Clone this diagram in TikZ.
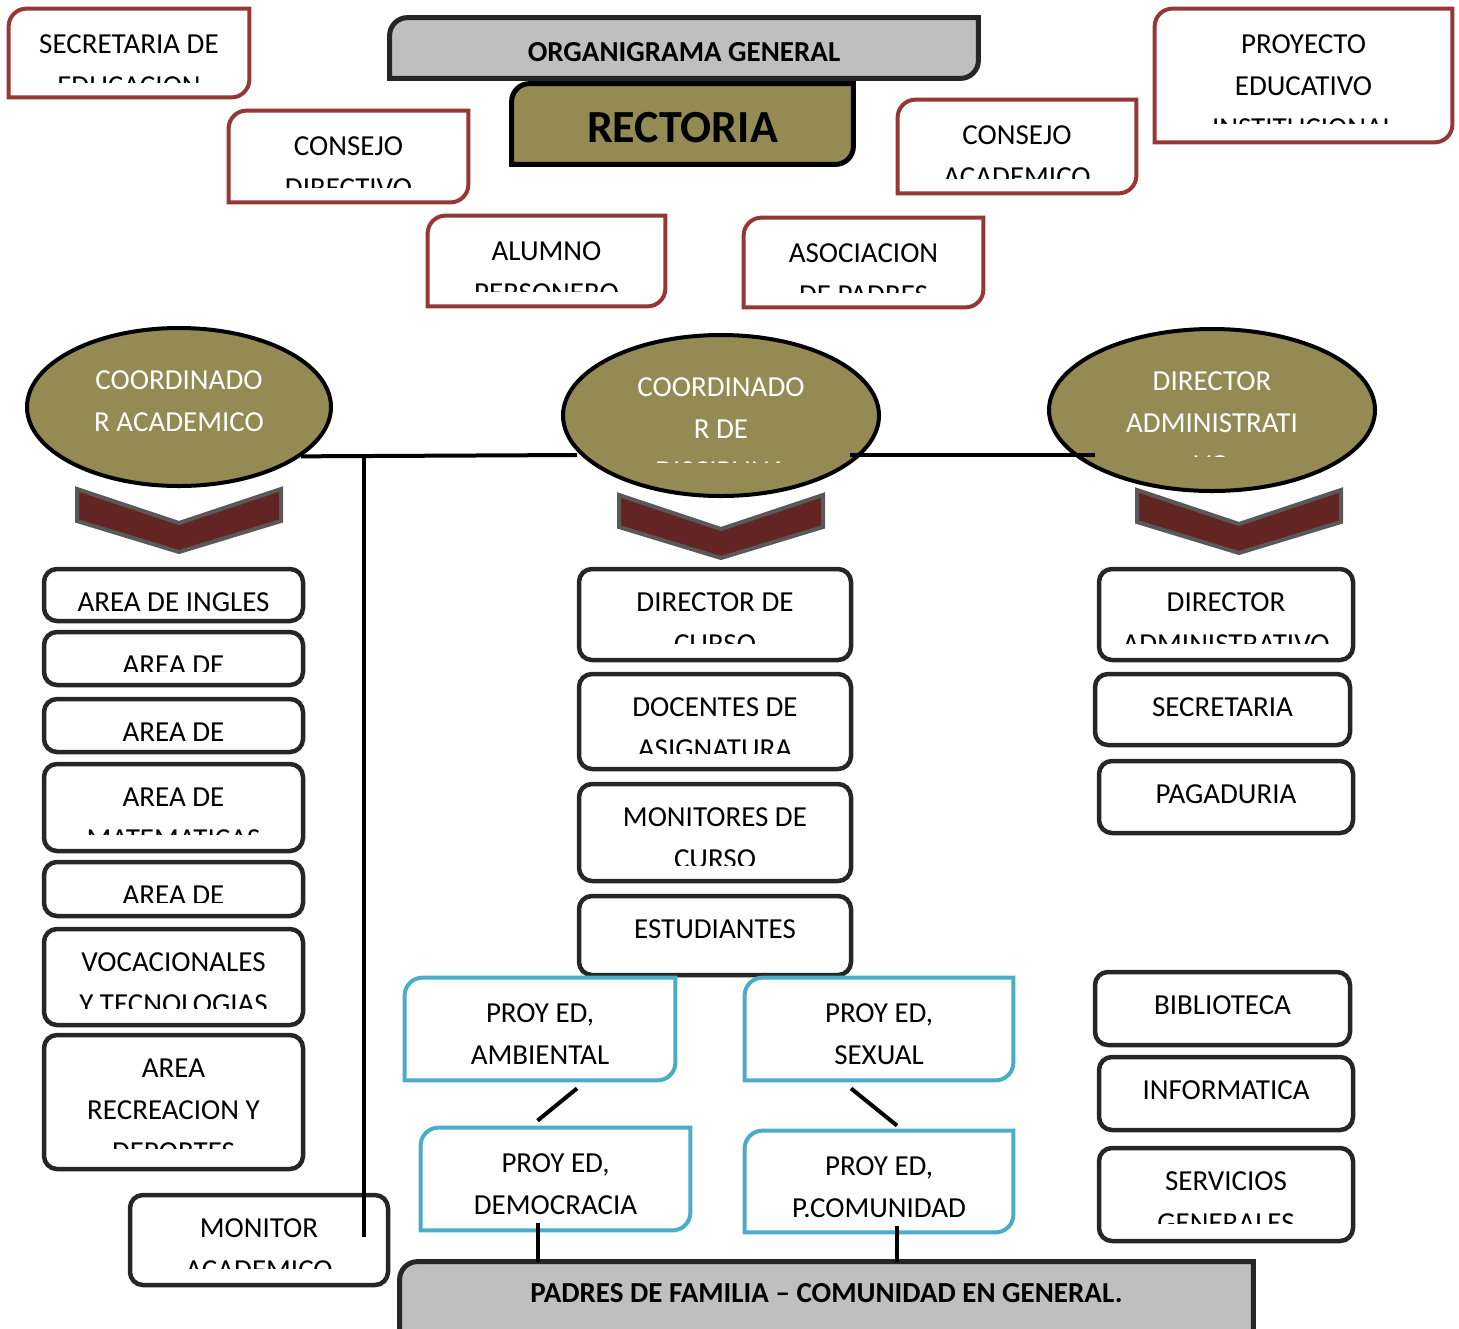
\documentclass[tikz,border=0pt]{standalone}
\usepackage{fontspec}
\setmainfont{Carlito}
\usepackage{tikz}
\usetikzlibrary{shapes.geometric, fit, calc}
\definecolor{framered}{RGB}{149,55,53}
\definecolor{frameblue}{RGB}{75,172,198}
\definecolor{olivefill}{RGB}{148,138,84}
\definecolor{chevfill}{RGB}{99,37,35}
\definecolor{chevedge}{RGB}{89,89,89}
\definecolor{carddark}{RGB}{38,38,38}
\definecolor{plategray}{RGB}{191,191,191}

% outline with rounded top-left and bottom-right corners
\newcommand{\diagframe}[2]{%
  \path[#1] ([yshift=-9pt]#2.north west) .. controls ([yshift=-4pt]#2.north west) and ([xshift=4pt]#2.north west) .. ([xshift=9pt]#2.north west)
    -- (#2.north east) -- ([yshift=9pt]#2.south east) .. controls ([yshift=4pt]#2.south east) and ([xshift=-4pt]#2.south east) .. ([xshift=-9pt]#2.south east)
    -- (#2.south west) -- cycle;}
% text that runs out of its box is cut off
\newcommand{\boxtext}[3][9.5pt]{%
  \begin{scope}
    \clip ([yshift=#1]#2.south west) rectangle (#2.north east);
    \node[txt, anchor=north] (#2-t) at ([yshift=-13pt]#2.north) {#3};
  \end{scope}}
\newcommand{\platetext}[2]{%
  \begin{scope}
    \clip ([xshift=-120pt]#1.north) rectangle ([xshift=120pt,yshift=-64.8pt]#1.north);
    \node[txt, text=white, anchor=north] (#1-t) at ([yshift=-22pt]#1.north) {#2};
  \end{scope}}

\begin{document}
\begin{tikzpicture}[x=0.5pt, y=-0.5pt,
        txt/.style={inner sep=0pt, align=center, font=\fontsize{14.5}{21}\selectfont},
        slot/.style={inner sep=0pt},
        redframe/.style={draw=framered, line width=2pt, fill=white},
        blueframe/.style={draw=frameblue, line width=2pt, fill=white},
        titleframe/.style={draw=carddark, line width=2.5pt, fill=plategray},
        headframe/.style={draw=black, line width=2.5pt, fill=olivefill},
        card/.style={draw=carddark, line width=2.25pt, rounded corners=6.5pt, fill=white, inner sep=0pt},
        plate/.style={ellipse, draw=black, line width=2pt, fill=olivefill, inner sep=0pt},
        chev/.style={fill=chevfill, draw=chevedge, line width=2pt},
        conn/.style={draw=black, line width=2pt}
    ]
    \useasboundingbox (0,0) rectangle (1459,1328);

    \node[slot, fit={(9,9) (249,97)}] (sed) {};
    \diagframe{redframe}{sed}
    \boxtext[7.5pt]{sed}{SECRETARIA DE\\EDUCACION}
    \node[slot, fit={(229,111) (468,202)}] (cdir) {};
    \diagframe{redframe}{cdir}
    \boxtext[7.5pt]{cdir}{CONSEJO\\DIRECTIVO}
    \node[slot, fit={(428,216) (665,306)}] (aper) {};
    \diagframe{redframe}{aper}
    \boxtext[7.5pt]{aper}{ALUMNO\\PERSONERO}
    \node[slot, fit={(898,100) (1136,193)}] (cacd) {};
    \diagframe{redframe}{cacd}
    \boxtext[7.5pt]{cacd}{CONSEJO\\ACADEMICO}
    \node[slot, fit={(744,218) (983,307)}] (apad) {};
    \diagframe{redframe}{apad}
    \boxtext[7.5pt]{apad}{ASOCIACION\\DE PADRES}
    \node[slot, fit={(1155,9) (1452,142)}] (pei) {};
    \diagframe{redframe}{pei}
    \boxtext[9.5pt]{pei}{PROYECTO\\EDUCATIVO\\INSTITUCIONAL}

    \node[slot, fit={(390,18) (978,78)}] (tit) {};
    \diagframe{titleframe}{tit}
    \node[anchor=base, font=\bfseries\fontsize{14.5}{21}\selectfont] (tit-t) at ([yshift=8.5pt]tit.south) {ORGANIGRAMA GENERAL};
    \node[slot, fit={(512,84) (853,164)}] (rect) {};
    \diagframe{headframe}{rect}
    \node[anchor=base, font=\bfseries\fontsize{23}{28}\selectfont] (rect-t) at ([yshift=11pt]rect.south) {RECTORIA};

    \node[plate, minimum width=152pt, minimum height=79pt] (cacad) at (179,407) {};
    \platetext{cacad}{COORDINADO\\R ACADEMICO}
    \node[plate, minimum width=158pt, minimum height=80.5pt] (cdisc) at (721,415.5) {};
    \platetext{cdisc}{COORDINADO\\R DE\\DISCIPLINA}
    \node[plate, minimum width=163pt, minimum height=81pt] (dadm) at (1212,410) {};
    \platetext{dadm}{DIRECTOR\\ADMINISTRATI\\VO}

    \foreach \cx/\cy in {179/489, 721/495, 1239/490}
        \draw[chev] (\cx-102,\cy) -- (\cx,\cy+34) -- (\cx+102,\cy) -- (\cx+102,\cy+32) -- (\cx,\cy+63) -- (\cx-102,\cy+32) -- cycle;

    \node[card, fit={(44,569) (303,621)}] (aing) {};
    \boxtext[6pt]{aing}{AREA DE INGLES}
    \node[card, fit={(44,632) (303,685)}] (aart) {};
    \boxtext[8pt]{aart}{AREA DE}
    \node[card, fit={(44,699) (303,752)}] (acie) {};
    \boxtext[7pt]{acie}{AREA DE}
    \node[card, fit={(44,764) (303,851)}] (amat) {};
    \boxtext{amat}{AREA DE\\MATEMATICAS}
    \node[card, fit={(44,862) (303,916)}] (asoc) {};
    \boxtext[8pt]{asoc}{AREA DE}
    \node[card, fit={(44,929) (303,1025)}] (avoc) {};
    \boxtext{avoc}{VOCACIONALES\\Y TECNOLOGIAS}
    \node[card, fit={(44,1035) (303,1169)}] (arec) {};
    \boxtext[11.5pt]{arec}{AREA\\RECREACION Y\\DEPORTES}
    \node[card, fit={(130,1195) (388,1285)}] (mona) {};
    \boxtext{mona}{MONITOR\\ACADEMICO}

    \node[card, fit={(579,569) (851,660)}] (dcur) {};
    \boxtext{dcur}{DIRECTOR DE\\CURSO}
    \node[card, fit={(579,674) (851,769)}] (dasg) {};
    \boxtext[9pt]{dasg}{DOCENTES DE\\ASIGNATURA}
    \node[card, fit={(579,784) (851,881)}] (mcur) {};
    \boxtext[9pt]{mcur}{MONITORES DE\\CURSO}
    \node[card, fit={(579,896) (851,975)}] (estu) {};
    \boxtext{estu}{ESTUDIANTES}

    \node[card, fit={(1099,569) (1353,660)}] (dadb) {};
    \boxtext{dadb}{DIRECTOR\\ADMINISTRATIVO}
    \node[card, fit={(1095,674) (1350,745)}] (secr) {};
    \boxtext{secr}{SECRETARIA}
    \node[card, fit={(1099,761) (1353,833)}] (paga) {};
    \boxtext{paga}{PAGADURIA}
    \node[card, fit={(1095,972) (1350,1045)}] (bibl) {};
    \boxtext{bibl}{BIBLIOTECA}
    \node[card, fit={(1099,1057) (1353,1130)}] (info) {};
    \boxtext{info}{INFORMATICA}
    \node[card, fit={(1099,1148) (1353,1241)}] (serv) {};
    \boxtext[10pt]{serv}{SERVICIOS\\GENERALES}

    \node[slot, fit={(405,978) (675,1080)}] (pamb) {};
    \diagframe{blueframe}{pamb}
    \boxtext[7.5pt]{pamb}{PROY ED,\\AMBIENTAL}
    \node[slot, fit={(745,978) (1013,1080)}] (psex) {};
    \diagframe{blueframe}{psex}
    \boxtext[7.5pt]{psex}{PROY ED,\\SEXUAL}
    \node[slot, fit={(421,1128) (690,1230)}] (pdem) {};
    \diagframe{blueframe}{pdem}
    \boxtext[7.5pt]{pdem}{PROY ED,\\DEMOCRACIA}
    \node[slot, fit={(745,1131) (1013,1232)}] (pcom) {};
    \diagframe{blueframe}{pcom}
    \boxtext[7.5pt]{pcom}{PROY ED,\\P.COMUNIDAD}

    \node[slot, fit={(400,1262) (1253,1345)}] (pad) {};
    \diagframe{titleframe}{pad}
    \node[anchor=base, font=\bfseries\fontsize{14.5}{21}\selectfont] (pad-t) at ([yshift=-20.5pt]pad.north) {PADRES DE FAMILIA – COMUNIDAD EN GENERAL.};

    \coordinate (jl) at (577,455);
    \coordinate (jm) at (850,455);
    \coordinate (jr) at (1095,455);
    \coordinate (jt) at (364,455);
    \coordinate (jb) at (364,1237);
    \coordinate (dm) at ($(pdem.south)+(-18,-7)$);
    \coordinate (cm) at ($(pcom.south)+(18,-6)$);
    \draw[conn] (cacad.-22) -- (jl);
    \draw[conn] (jm) -- (jr);
    \draw[conn] (jt) -- (jb);
    \draw[conn] ($(pamb.south)+(37,8)$) -- ($(pdem.north)+(-18,-7)$);
    \draw[conn] ($(psex.south)+(-28,8)$) -- ($(pcom.north)+(18,-5)$);
    \draw[conn] (dm) -- (dm |- pad.north);
    \draw[conn] (cm) -- (cm |- pad.north);
\end{tikzpicture}
\end{document}
